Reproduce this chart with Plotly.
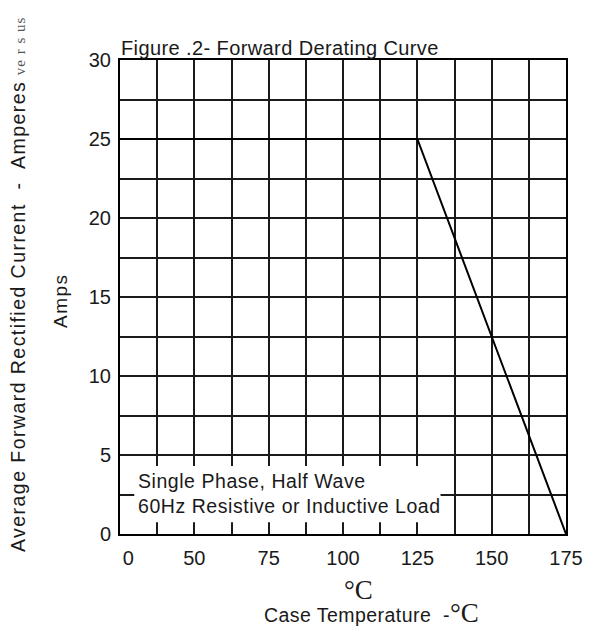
import plotly.graph_objects as go

# data
temp_c = [25, 125, 175]
current_a = [25, 25, 0]
x_tickvals = [25, 50, 75, 100, 125, 150, 175]
x_ticktext = ["\u00a0\u00a0\u00a00", "50", "75", "100", "125", "150", "175"]
y_tickvals = [0, 5, 10, 15, 20, 25, 30]

FONT = "Arial, Liberation Sans, sans-serif"
SERIF = "Liberation Serif, Times New Roman, serif"
INK = "#1a1a1a"
GRID = "#1a1a1a"

fig = go.Figure()
fig.add_trace(go.Scatter(x=temp_c, y=current_a, mode="lines",
                         line=dict(color="black", width=2), showlegend=False,
                         hoverinfo="skip"))

fig.update_layout(
    width=595, height=630,
    margin=dict(l=120, r=29, t=60, b=96),
    paper_bgcolor="white", plot_bgcolor="white",
    font=dict(family=FONT, color=INK, size=20),
    xaxis=dict(range=[25, 175], tickvals=x_tickvals, ticktext=x_ticktext,
               showgrid=True, gridcolor=GRID, gridwidth=2,
               minor=dict(tick0=25, dtick=12.5, showgrid=True, gridcolor=GRID, gridwidth=2),
               showline=True, linecolor="black", linewidth=2, mirror=True,
               ticks="", ticklabelstandoff=5, zeroline=False,
               tickfont=dict(size=20, family=FONT, color=INK)),
    yaxis=dict(range=[0, 30], tickvals=y_tickvals,
               showgrid=True, gridcolor=GRID, gridwidth=2,
               minor=dict(tick0=0, dtick=2.5, showgrid=True, gridcolor=GRID, gridwidth=2),
               showline=True, linecolor="black", linewidth=2, mirror=True,
               ticks="", ticklabelstandoff=3, zeroline=False,
               tickfont=dict(size=20, family=FONT, color=INK)),
)

# white box covering the grid behind the note
fig.add_shape(type="rect", xref="x", yref="y", x0=29.8, x1=132.8, y0=0.75, y1=4.3,
              fillcolor="white", line=dict(width=0), layer="above")

fig.add_annotation(xref="x", yref="y", x=30.5, y=2.57, xanchor="left", yanchor="middle",
                   text="<span style='letter-spacing:0.55px'>Single Phase, Half Wave<br>60Hz Resistive or Inductive Load</span>",
                   showarrow=False, align="left",
                   font=dict(size=19.5, family=FONT, color=INK))

# title
fig.add_annotation(xref="paper", yref="paper", x=0, y=1, xanchor="left", yanchor="bottom",
                   xshift=-1, yshift=-1,
                   text="<span style='letter-spacing:0.4px'>Figure .2- Forward Derating Curve</span>",
                   showarrow=False, font=dict(size=20, family=FONT, color=INK))

# y axis titles
fig.add_annotation(xref="paper", yref="paper", x=0, y=0, xanchor="center", yanchor="middle",
                   xshift=-102, yshift=249,
                   text="<span style='letter-spacing:1.45px'>Average Forward Rectified Current  -  Amperes</span> "
                        "<span style='font-family:Liberation Serif, serif;font-size:15px;color:#555;letter-spacing:1px'>ve r s us</span>",
                   textangle=-90, showarrow=False, font=dict(size=19.5, family=FONT, color=INK))
fig.add_annotation(xref="paper", yref="paper", x=0, y=0, xanchor="center", yanchor="middle",
                   xshift=-60, yshift=534 - 301,
                   text="<span style='letter-spacing:1.5px'>Amps</span>", textangle=-90, showarrow=False,
                   font=dict(size=19, family=FONT, color=INK))

# x axis titles
fig.add_annotation(xref="paper", yref="paper", x=0, y=0, xanchor="center", yanchor="middle",
                   xshift=358 - 120, yshift=534 - 590, text="°C", showarrow=False,
                   font=dict(size=27, family=SERIF, color=INK))
fig.add_annotation(xref="paper", yref="paper", x=0, y=0, xanchor="left", yanchor="middle",
                   xshift=262 - 120, yshift=534 - 613,
                   text="<span style='letter-spacing:0.45px'>Case Temperature  -</span>"
                        "<span style='font-family:Liberation Serif, serif;font-size:27px'>°C</span>",
                   showarrow=False, font=dict(size=19.5, family=FONT, color=INK))

fig.write_html("out.html", config={"displayModeBar": False},
               post_script="document.body.style.margin='0px';document.body.style.overflow='hidden';")
